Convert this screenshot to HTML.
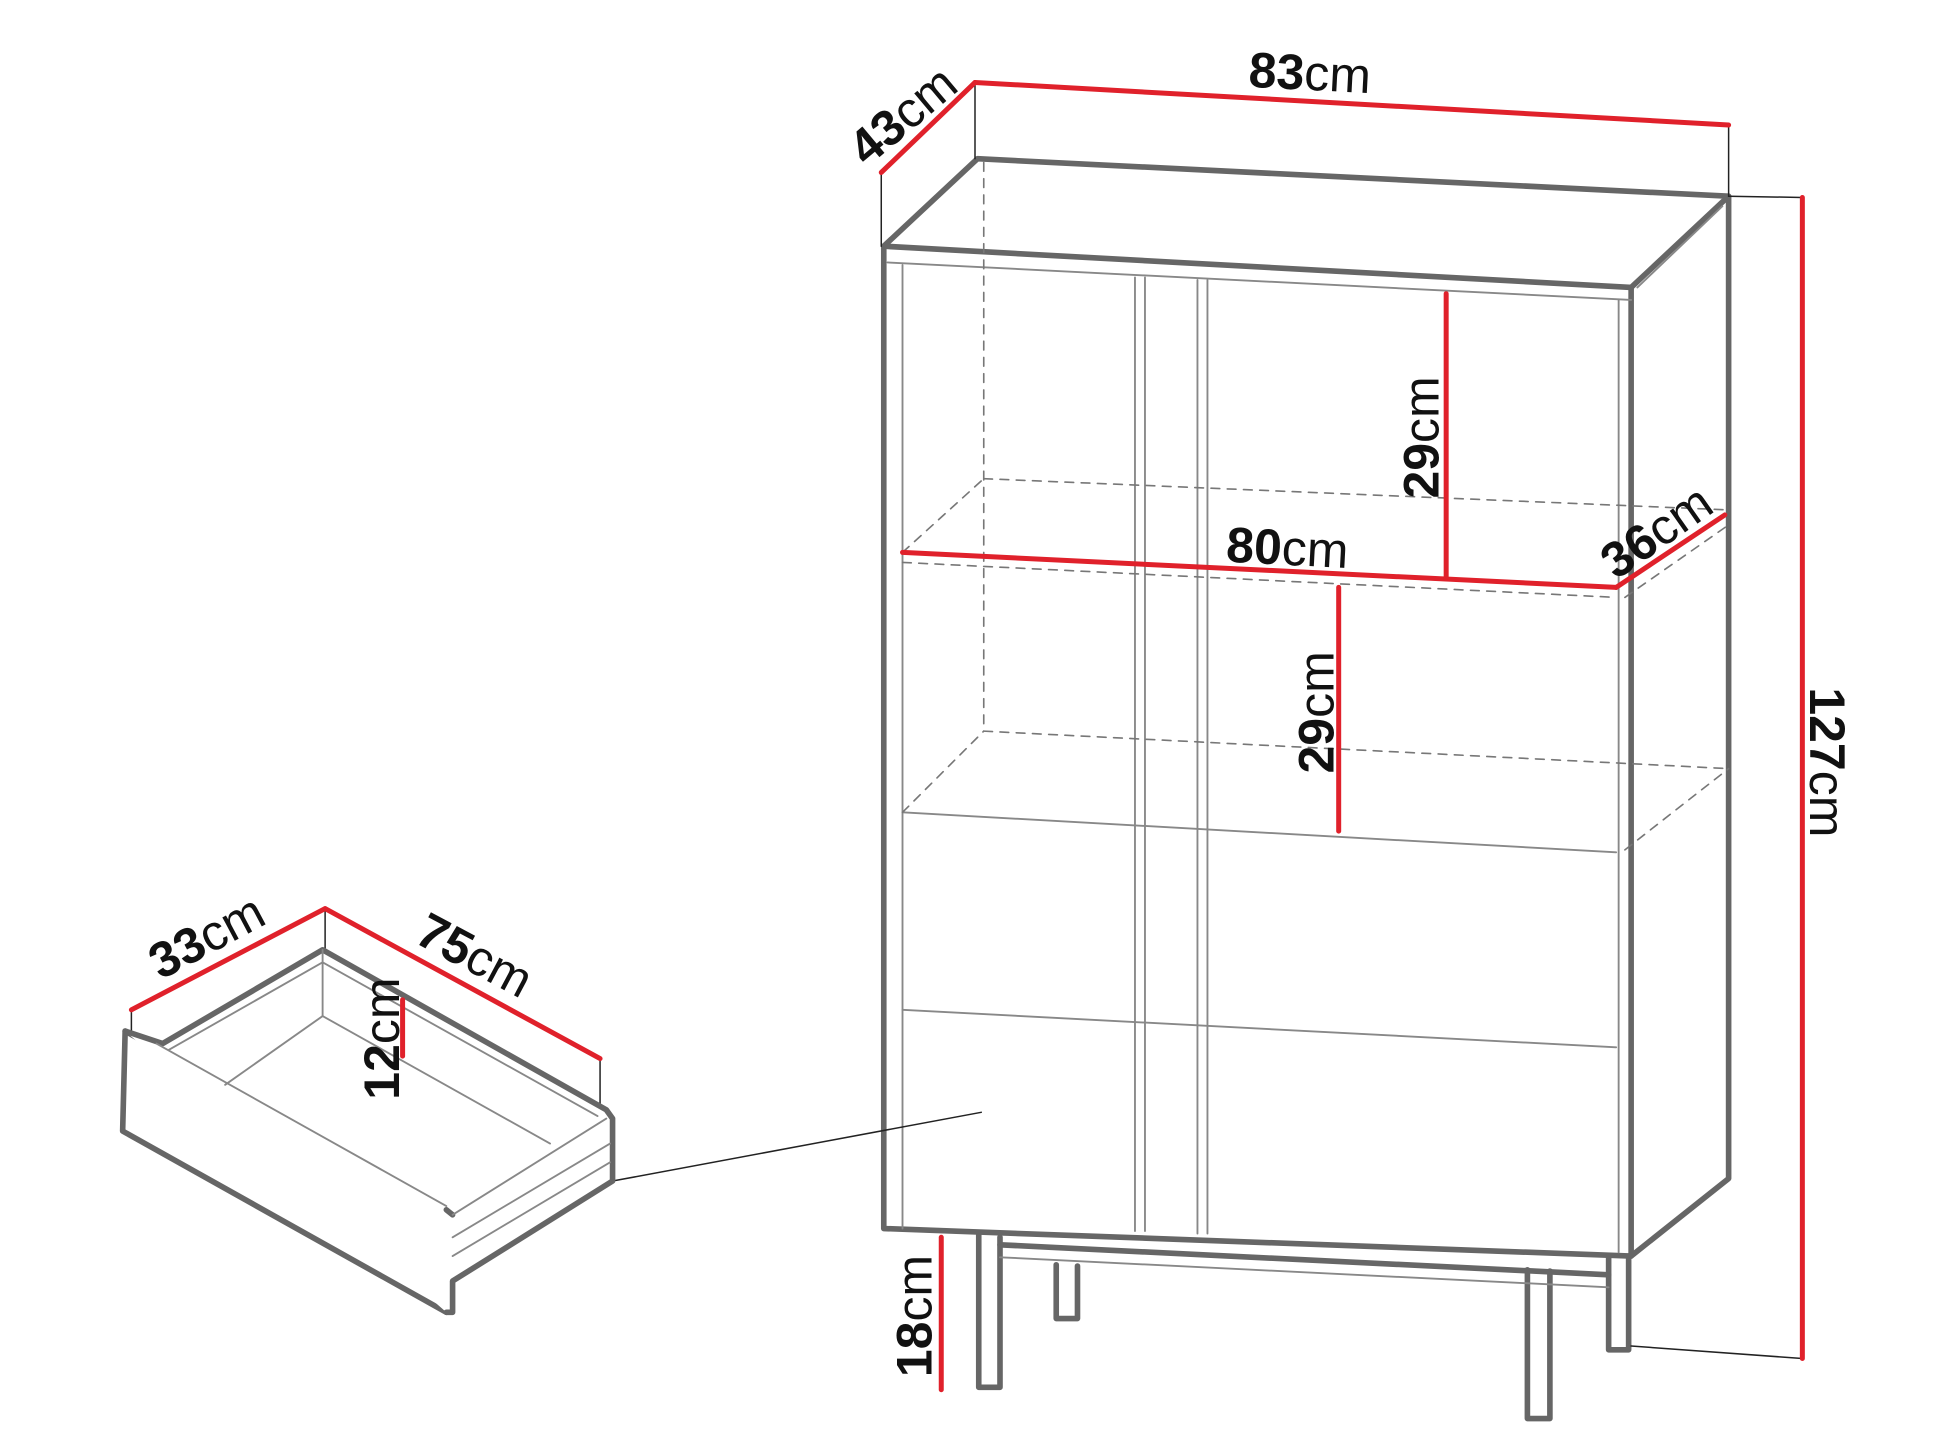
<!DOCTYPE html>
<html><head><meta charset="utf-8"><style>
html,body{margin:0;padding:0;background:#fff}
svg{display:block}
text{font-family:"Liberation Sans",sans-serif;fill:#111}
.b{font-weight:bold}
</style></head><body>
<svg width="1940" height="1456" viewBox="0 0 1552 1165" xmlns="http://www.w3.org/2000/svg">
<g fill="none" stroke-linecap="round" stroke-linejoin="round">
<g stroke="#666" stroke-width="4.5">
<polygon points="707,197 782,127 1383,157 1305,230" fill="#fff"/>
<polyline points="707,197 707,983 1305,1005 1383,943 1383,157"/>
<line x1="1305" y1="230" x2="1305" y2="1005"/>
<polyline points="783,988 783,1110 800,1110 800,990"/>
<polyline points="845,1012 845,1055 862,1055 862,1013"/>
<polyline points="1222,1016 1222,1135 1240,1135 1240,1017"/>
<polyline points="1287,1005 1287,1080 1303,1080 1303,1005"/>
<line x1="800" y1="996" x2="1287" y2="1020"/>
</g>
<g stroke="#888" stroke-width="1.5">
<line x1="710" y1="210" x2="1305" y2="240"/>
<line x1="722" y1="212" x2="722" y2="983"/>
<line x1="1295" y1="240" x2="1295" y2="1002"/>
<line x1="1310" y1="230" x2="1378" y2="165"/>
<line x1="908" y1="222" x2="908" y2="985"/><line x1="916" y1="222" x2="916" y2="985"/>
<line x1="958" y1="224" x2="958" y2="987"/><line x1="966" y1="224" x2="966" y2="987"/>
<line x1="722" y1="650" x2="1293" y2="682"/>
<line x1="722" y1="808" x2="1293" y2="838"/>
<line x1="800" y1="1006" x2="1287" y2="1030"/>
</g>
<g stroke="#777" stroke-width="1.3" stroke-dasharray="7,6">
<line x1="787" y1="130" x2="787" y2="585"/>
<line x1="722" y1="450" x2="1293" y2="478"/>
<line x1="787" y1="383" x2="1383" y2="408"/>
<line x1="722" y1="442" x2="787" y2="383"/>
<line x1="1300" y1="478" x2="1383" y2="420"/>
<line x1="787" y1="585" x2="1383" y2="615"/>
<line x1="722" y1="650" x2="787" y2="585"/>
<line x1="1300" y1="680" x2="1383" y2="615"/>
</g>
<g stroke="#222" stroke-width="1.2">
<line x1="780" y1="66" x2="780" y2="127"/>
<line x1="1383" y1="100" x2="1383" y2="157"/>
<line x1="705" y1="138" x2="705" y2="197"/>
<line x1="1383" y1="157" x2="1442" y2="158"/>
<line x1="1305" y1="1077" x2="1442" y2="1087"/>
<line x1="490" y1="945" x2="785" y2="890"/>
<line x1="105" y1="808" x2="105" y2="830"/>
<line x1="260" y1="727" x2="260" y2="762"/>
<line x1="480" y1="847" x2="480" y2="890"/>
</g>
<g stroke="#666" stroke-width="4.5" fill="#fff">
<polygon points="100,825 357,968 357,1050 98,905"/>
<polyline points="100,825 130,835 258,760 485,888 490,895 490,945 362,1025 362,1050 357,1050"/>
<line x1="357" y1="968" x2="362" y2="972"/>
</g>
<g stroke="#888" stroke-width="1.5">
<line x1="135" y1="840" x2="258" y2="770"/>
<line x1="258" y1="770" x2="478" y2="893"/>
<line x1="258" y1="760" x2="258" y2="813"/>
<line x1="180" y1="868" x2="258" y2="813"/>
<line x1="258" y1="813" x2="440" y2="915"/>
<line x1="125" y1="835" x2="357" y2="965"/>
<line x1="362" y1="972" x2="485" y2="895"/>
<line x1="362" y1="990" x2="488" y2="915"/>
<line x1="362" y1="1005" x2="488" y2="930"/>
</g>
<g stroke="#e0212b" stroke-width="4">
<line x1="780" y1="66" x2="1383" y2="100"/>
<line x1="705" y1="138" x2="780" y2="66"/>
<line x1="1442" y1="158" x2="1442" y2="1087"/>
<line x1="722" y1="442" x2="1293" y2="470"/>
<line x1="1293" y1="470" x2="1380" y2="412"/>
<line x1="1157" y1="235" x2="1157" y2="463"/>
<line x1="1071" y1="470" x2="1071" y2="665"/>
<line x1="753" y1="990" x2="753" y2="1112"/>
<line x1="105" y1="808" x2="260" y2="727"/>
<line x1="260" y1="727" x2="480" y2="847"/>
<line x1="322" y1="800" x2="322" y2="845"/>
</g>
</g>
<g font-size="40">
<text x="1048" y="72" text-anchor="middle" transform="rotate(3 1048 58)"><tspan class="b">83</tspan>cm</text>
<text x="722" y="106" text-anchor="middle" transform="rotate(-40 722 92)"><tspan class="b">43</tspan>cm</text>
<text x="1030" y="452" text-anchor="middle" transform="rotate(3 1030 438)"><tspan class="b">80</tspan>cm</text>
<text x="1137" y="364" text-anchor="middle" transform="rotate(-90 1137 350)"><tspan class="b">29</tspan>cm</text>
<text x="1053" y="584" text-anchor="middle" transform="rotate(-90 1053 570)"><tspan class="b">29</tspan>cm</text>
<text x="1325" y="439" text-anchor="middle" transform="rotate(-35 1325 425)"><tspan class="b">36</tspan>cm</text>
<text x="1462" y="624" text-anchor="middle" transform="rotate(90 1462 610)"><tspan class="b">127</tspan>cm</text>
<text x="731" y="1067" text-anchor="middle" transform="rotate(-90 731 1053)"><tspan class="b">18</tspan>cm</text>
<text x="165" y="763" text-anchor="middle" transform="rotate(-28 165 749)"><tspan class="b">33</tspan>cm</text>
<text x="380" y="778" text-anchor="middle" transform="rotate(28 380 764)"><tspan class="b">75</tspan>cm</text>
<text x="305" y="845" text-anchor="middle" transform="rotate(-90 305 831)"><tspan class="b">12</tspan>cm</text>
</g>
</svg>
</body></html>
